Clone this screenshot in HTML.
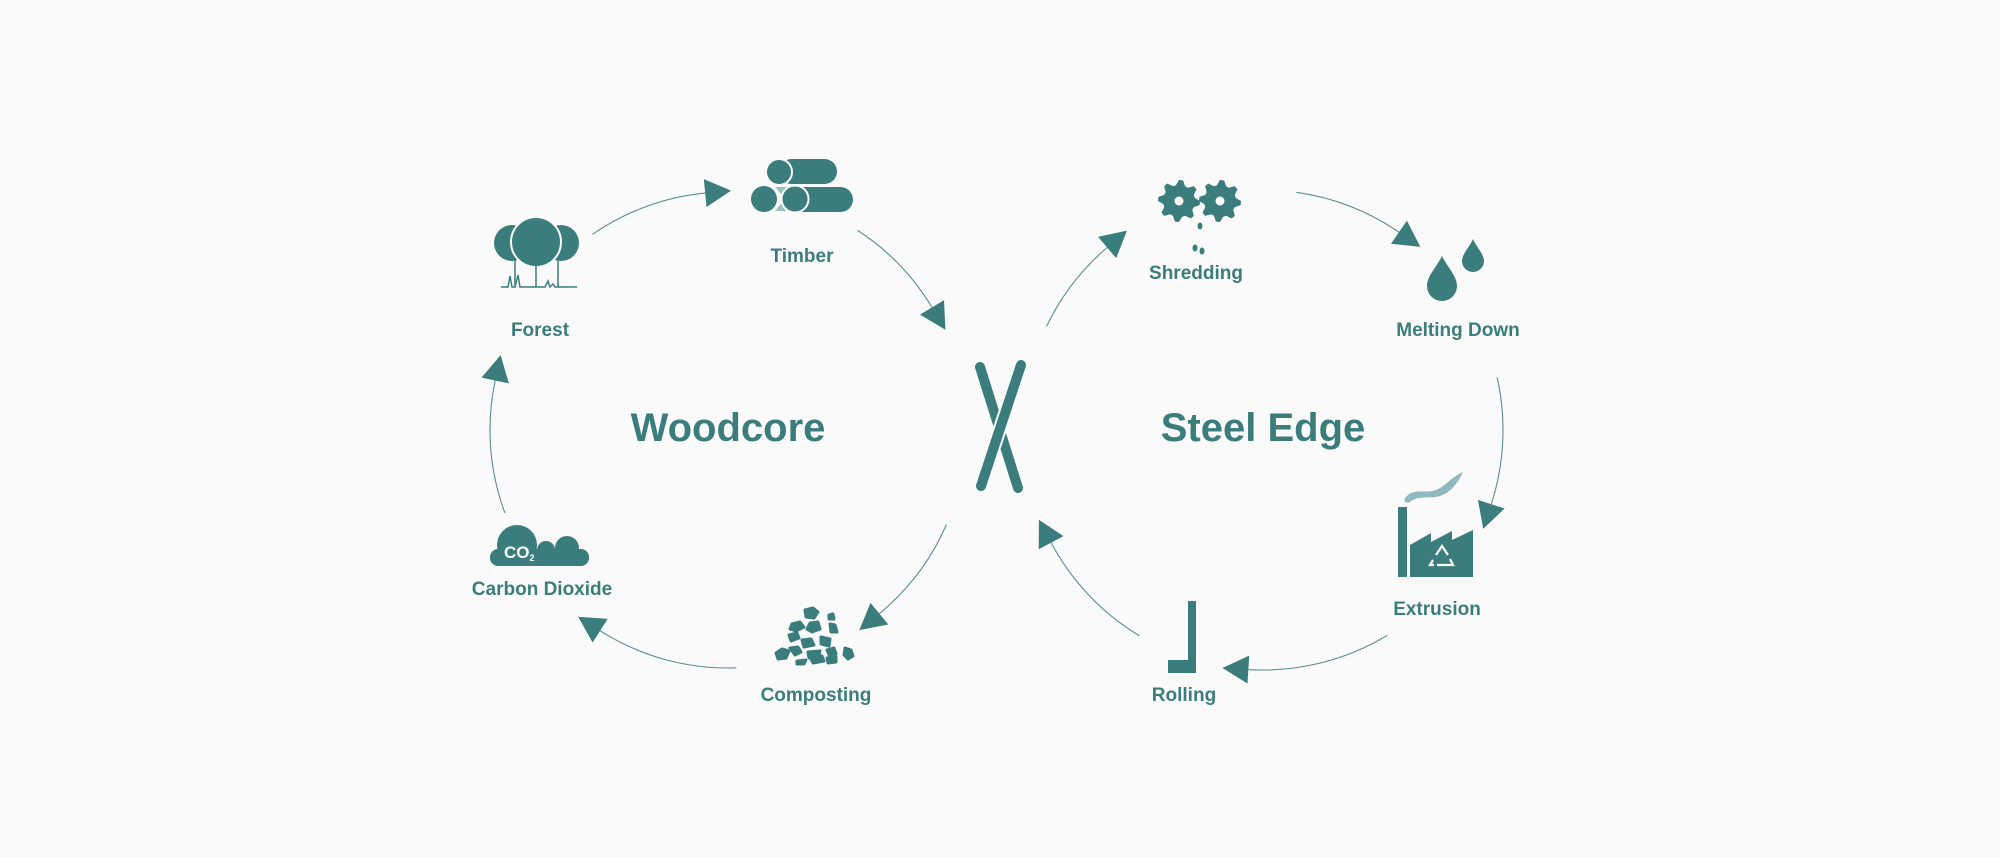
<!DOCTYPE html>
<html><head><meta charset="utf-8"><style>
html,body{margin:0;padding:0;background:#fafafa;}
svg{display:block;}
text{font-family:"Liberation Sans",Arial,sans-serif;font-weight:bold;fill:#3b7d7d;}
</style></head><body>
<svg id="s" width="2000" height="857" viewBox="0 0 2000 857" xmlns="http://www.w3.org/2000/svg">
<rect width="2000" height="857" fill="#fafafa"/>
<g id="arcs" fill="none" stroke="#5b8f8f" stroke-width="1.1"></g>
<g id="heads" fill="#3b7d7d"></g>

<text x="728" y="441" font-size="40" text-anchor="middle">Woodcore</text>
<text x="1263" y="441" font-size="40" text-anchor="middle">Steel Edge</text>

<!-- X -->
<g stroke-linecap="round">
<line x1="980" y1="367" x2="1018" y2="488" stroke="#3b7d7d" stroke-width="10"/>
<line x1="1021" y1="365" x2="981" y2="486" stroke="#fafafa" stroke-width="14"/>
<line x1="1021" y1="365" x2="981" y2="486" stroke="#3b7d7d" stroke-width="10"/>
</g>

<!-- Labels -->
<g font-size="19" text-anchor="middle">
<text x="540" y="336">Forest</text>
<text x="802" y="262">Timber</text>
<text x="542" y="595">Carbon Dioxide</text>
<text x="816" y="701">Composting</text>
<text x="1196" y="279">Shredding</text>
<text x="1458" y="336">Melting Down</text>
<text x="1437" y="615">Extrusion</text>
<text x="1184" y="701">Rolling</text>
</g>

<!-- Forest -->
<g fill="#3b7d7d">
<circle cx="512" cy="243" r="18"/>
<circle cx="561" cy="243" r="18"/>
<circle cx="536" cy="242" r="25" stroke="#fafafa" stroke-width="2"/>
</g>
<g stroke="#3b7d7d" stroke-width="1.5" fill="none">
<line x1="515" y1="260" x2="515" y2="287"/>
<line x1="536" y1="266" x2="536" y2="287"/>
<line x1="558" y1="260" x2="558" y2="287"/>
<polyline points="501,287 508,287 510,276 512,287 515,287 518,275 520,287 545,287 548,281 550,287 553,284 555,287 577,287"/>
</g>

<!-- Timber -->
<g fill="#3b7d7d">
<path d="M775,187 L785,199 L775,211 L799,211 L789,199 L799,187Z" fill="#9cbfbf"/>
<rect x="779" y="159" width="58" height="25" rx="12.5"/>
<circle cx="779" cy="172" r="13" stroke="#fafafa" stroke-width="2"/>
<rect x="790" y="187" width="63" height="25" rx="12.5"/>
<circle cx="764" cy="199" r="13"/>
<circle cx="795" cy="199" r="13.5" stroke="#fafafa" stroke-width="2"/>
</g>

<!-- CO2 cloud -->
<g fill="#3b7d7d">
<circle cx="517" cy="545" r="20"/>
<circle cx="546" cy="550" r="9"/>
<circle cx="567" cy="548" r="12"/>
<rect x="490" y="549" width="99" height="17" rx="8"/>
</g>
<text x="504" y="558" font-size="17" style="fill:#fff">CO<tspan font-size="9" dy="3">2</tspan></text>

<!-- Composting stones -->
<g fill="#3b7d7d" stroke="#3b7d7d" stroke-width="3" stroke-linejoin="round">
<polygon points="805,610 813,608 818,612 814,618 806,617"/>
<polygon points="829,615 833,614 834,619 829,619"/>
<polygon points="792,624 800,622 804,627 796,631 790,629"/>
<polygon points="810,623 818,622 820,629 812,632 807,629"/>
<polygon points="830,624 835,625 837,632 831,632"/>
<polygon points="789,635 797,633 799,638 791,641"/>
<polygon points="802,640 811,639 814,645 804,647"/>
<polygon points="821,637 830,639 829,646 821,644"/>
<polygon points="776,653 782,649 789,651 786,658 778,659"/>
<polygon points="790,648 798,647 801,652 795,655"/>
<polygon points="808,652 820,651 819,656 809,658"/>
<polygon points="827,650 834,648 836,654 829,655"/>
<polygon points="811,659 822,656 824,661 813,663"/>
<polygon points="827,658 836,657 836,662 828,663"/>
<polygon points="845,648 851,650 853,656 848,659 844,655"/>
<polygon points="797,661 806,660 804,664 797,664"/>
</g>

<!-- Gears -->
<g fill="#3b7d7d" id="gears"></g>
<g fill="#3b7d7d">
<ellipse cx="1200" cy="226" rx="2.5" ry="3.5"/>
<ellipse cx="1195" cy="248" rx="2.5" ry="3.5"/>
<ellipse cx="1202" cy="251" rx="2.5" ry="3.5"/>
</g>

<!-- Drops -->
<g fill="#3b7d7d">
<path d="M1442,256 C1448,268 1457,276 1457,286 A15,15 0 0 1 1427,286 C1427,276 1436,268 1442,256Z"/>
<path d="M1473,239 C1477,248 1484,254 1484,261 A11,11 0 0 1 1462,261 C1462,254 1469,248 1473,239Z"/>
</g>

<!-- Factory -->
<path d="M1407,496 C1415,488 1425,494 1436,490 C1446,486 1450,478 1463,472 C1458,482 1452,492 1440,496 C1428,499 1418,495 1410,502 C1405,504 1402,500 1407,496Z" fill="#8fb8bf"/>
<g fill="#3b7d7d">
<rect x="1398" y="507" width="9" height="70"/>
<polygon points="1410,577 1410,545 1431,533 1431,542 1452,531 1452,540 1473,530 1473,577"/>
</g>
<g fill="none" stroke="#fff" stroke-width="2.2">
<polyline points="1436,555 1442,546 1448,555"/>
<polyline points="1450,559 1453,565 1437,565"/>
<polyline points="1433,560 1430,565 1434,565"/>
</g>

<!-- Rolling -->
<g fill="#3b7d7d">
<rect x="1188" y="601" width="8" height="72"/>
<rect x="1168" y="660" width="28" height="13"/>
</g>
</svg>
<script>
var NS="http://www.w3.org/2000/svg";
function arc(cx,cy,r,a0,a1){
 var g=document.getElementById("arcs"),h=document.getElementById("heads");
 var t0=a0*Math.PI/180,t1=a1*Math.PI/180;
 var x0=cx+r*Math.cos(t0),y0=cy+r*Math.sin(t0),x1=cx+r*Math.cos(t1),y1=cy+r*Math.sin(t1);
 var p=document.createElementNS(NS,"path");
 p.setAttribute("d","M"+x0+","+y0+" A"+r+","+r+" 0 0 1 "+x1+","+y1);
 g.appendChild(p);
 var tx=-Math.sin(t1),ty=Math.cos(t1),nx=-ty,ny=tx,L=26,W=14;
 var tri=document.createElementNS(NS,"polygon");
 tri.setAttribute("points",(x1+tx*L)+","+(y1+ty*L)+" "+(x1+nx*W)+","+(y1+ny*W)+" "+(x1-nx*W)+","+(y1-ny*W));
 h.appendChild(tri);
}
var L=[728,430,238],R=[1263,430,240];
arc(L[0],L[1],L[2],-124.7,-95.5);
arc(L[0],L[1],L[2],-57,-31);
arc(L[0],L[1],L[2],23.4,50.5);
arc(L[0],L[1],L[2],88,122.5);
arc(L[0],L[1],L[2],159.6,192);
arc(R[0],R[1],R[2],-154.5,-130.5);
arc(R[0],R[1],R[2],-82,-55.5);
arc(R[0],R[1],R[2],-12.7,18);
arc(R[0],R[1],R[2],58.8,93.5);
arc(R[0],R[1],R[2],121,152);
function gear(cx,cy){
 var gg=document.getElementById("gears"),d="";
 var n=8;
 for(var i=0;i<n*4;i++){
  var a=(i/(n*4))*2*Math.PI, r=(i%4<2)?21:16;
  d+=(i?"L":"M")+(cx+r*Math.cos(a))+","+(cy+r*Math.sin(a));
 }
 d+="Z M"+(cx+4.5)+","+cy+" A4.5,4.5 0 1 0 "+(cx-4.5)+","+cy+" A4.5,4.5 0 1 0 "+(cx+4.5)+","+cy+"Z";
 var p=document.createElementNS(NS,"path");p.setAttribute("d",d);p.setAttribute("fill-rule","evenodd");gg.appendChild(p);
}
gear(1179,201);gear(1220,201);
</script>
</body></html>
